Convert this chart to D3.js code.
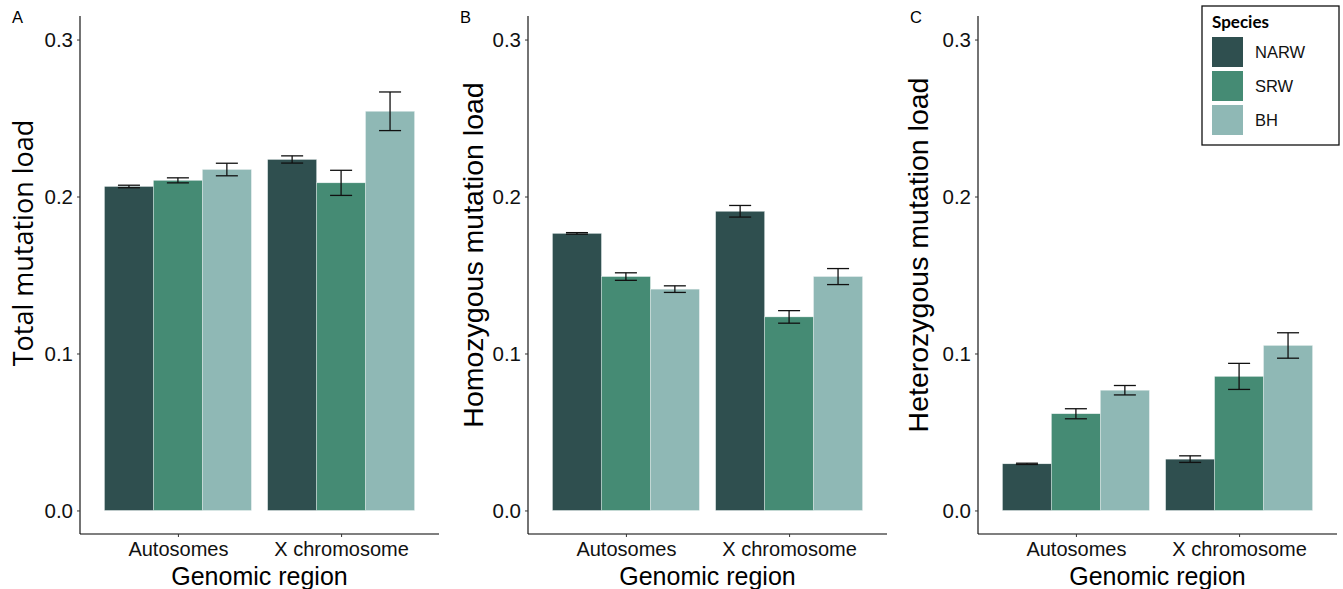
<!DOCTYPE html>
<html><head><meta charset="utf-8">
<script src="https://cdn.jsdelivr.net/npm/d3@7/dist/d3.min.js"></script>
<style>body{margin:0;background:#fff}svg{display:block}text{font-family:"Liberation Sans",Arial,sans-serif}</style>
</head><body><svg id="c" width="1343" height="589"></svg>
<script>
const regions = ["Autosomes", "X chromosome"];
const species = ["NARW", "SRW", "BH"];
const colors = ["#2f4f4f", "#458b74", "#8fb8b5"];
const yTicks = [0, 0.1, 0.2, 0.3];
const panelLabels = ["A", "B", "C"];
const yTitles = ["Total mutation load", "Homozygous mutation load", "Heterozygous mutation load"];
// values [region][species]
const totalMean = [[0.2064, 0.2103, 0.2172], [0.2236, 0.2087, 0.2543]];
const totalErr  = [[0.0008, 0.0016, 0.0040], [0.0023, 0.0080, 0.0123]];
const homoMean  = [[0.1765, 0.1490, 0.1410], [0.1906, 0.1233, 0.1490]];
const homoErr   = [[0.0005, 0.0024, 0.0021], [0.0037, 0.0040, 0.0051]];
const hetMean   = [[0.0297, 0.0616, 0.0766], [0.0327, 0.0854, 0.1051]];
const hetErr    = [[0.0004, 0.0032, 0.0030], [0.0021, 0.0083, 0.0081]];

const panels = [
  {mean: totalMean, err: totalErr},
  {mean: homoMean, err: homoErr},
  {mean: hetMean, err: hetErr}
];
const svg = d3.select("#c");
const axisX = [80, 528, 978];
const titleX = [33, 483, 928];
const titleY = [243, 255, 255];
const titleFont = ["'Open Sans', 'Noto Sans', sans-serif", "'Liberation Sans', Arial, sans-serif", "'Liberation Sans', Arial, sans-serif"];
const titleSize = [27, 28.5, 28.5];
const pw = 359, yTop = 16, yBottom = 534;
const y = d3.scaleLinear().domain([-0.015, 0.315]).range([yBottom, yTop]);

panels.forEach((p, i) => {
  const x0 = axisX[i];
  const unit = pw / 2.2;
  const x = d3.scalePoint().domain(regions).range([x0 + 0.6 * unit, x0 + 1.6 * unit]);
  const groupW = 0.9 * unit;
  const xs = d3.scaleBand().domain(species).range([-groupW / 2, groupW / 2]).padding(0);
  const g = svg.append("g");
  regions.forEach((r, ri) => {
    species.forEach((s, si) => {
      const m = p.mean[ri][si];
      const bx = x(r) + xs(s);
      g.append("rect").attr("x", bx).attr("width", xs.bandwidth())
        .attr("y", y(m)).attr("height", y(0) - y(m)).attr("fill", colors[si])
        .attr("stroke", "#e8f0ef").attr("stroke-width", 0.4);
    });
  });
  regions.forEach((r, ri) => {
    species.forEach((s, si) => {
      const m = p.mean[ri][si], e = p.err[ri][si];
      const cx = x(r) + xs(s) + xs.bandwidth() / 2;
      const hw = xs.bandwidth() * 0.225;
      const eg = g.append("g").attr("stroke", "#111").attr("stroke-width", 1.3);
      eg.append("line").attr("x1", cx).attr("x2", cx).attr("y1", y(m + e)).attr("y2", y(m - e));
      eg.append("line").attr("x1", cx - hw).attr("x2", cx + hw).attr("y1", y(m + e)).attr("y2", y(m + e));
      eg.append("line").attr("x1", cx - hw).attr("x2", cx + hw).attr("y1", y(m - e)).attr("y2", y(m - e));
    });
  });
  // y axis
  const ya = svg.append("g").attr("transform", `translate(${x0},0)`)
    .call(d3.axisLeft(y).tickValues(yTicks).tickFormat(d3.format(".1f")).tickSize(3).tickPadding(4));
  ya.select(".domain").attr("d", `M0,${yTop}V${yBottom}`).attr("stroke-width", 1.1);
  ya.selectAll(".tick text").attr("font-size", 20.5).attr("fill", "#111").style("font-family", '"Liberation Sans",Arial,sans-serif');
  ya.selectAll(".tick line").attr("stroke", "#333");
  // x axis
  const xa = svg.append("g").attr("transform", `translate(0,${yBottom})`)
    .call(d3.axisBottom(x).tickSize(3).tickPadding(5));
  xa.select(".domain").attr("d", `M${x0},0H${x0 + pw}`).attr("stroke-width", 1.1);
  xa.selectAll(".tick text").attr("font-size", 20).attr("fill", "#111").style("font-family", '"Liberation Sans",Arial,sans-serif');
  xa.selectAll(".tick line").attr("stroke", "#333");
  // titles
  svg.append("text").attr("x", x0 + pw / 2).attr("y", 585).attr("text-anchor", "middle")
    .attr("font-size", 25).attr("fill", "#000").text("Genomic region");
  svg.append("text").attr("transform", `translate(${titleX[i]},${titleY[i]}) rotate(-90)`)
    .attr("text-anchor", "middle").attr("font-size", titleSize[i]).attr("fill", "#000")
    .style("font-family", titleFont[i]).text(yTitles[i]);
  svg.append("text").attr("x", x0 - 68).attr("y", 23).attr("font-size", 16.5).attr("fill", "#000").text(panelLabels[i]);
});

// legend
const lg = svg.append("g");
lg.append("rect").attr("x", 1202).attr("y", 6).attr("width", 137).attr("height", 139)
  .attr("fill", "#fff").attr("stroke", "#111").attr("stroke-width", 1.3);
lg.append("text").attr("x", 1212).attr("y", 28).attr("font-size", 17).attr("font-weight", "bold")
  .style("font-family", "Lato, 'Open Sans', sans-serif").text("Species");
species.forEach((s, si) => {
  const yy = 37 + si * 34;
  lg.append("rect").attr("x", 1212).attr("y", yy).attr("width", 31).attr("height", 30).attr("fill", colors[si]);
  lg.append("text").attr("x", 1255).attr("y", yy + 21).attr("font-size", 16.5).attr("fill", "#111").text(s);
});
</script></body></html>
